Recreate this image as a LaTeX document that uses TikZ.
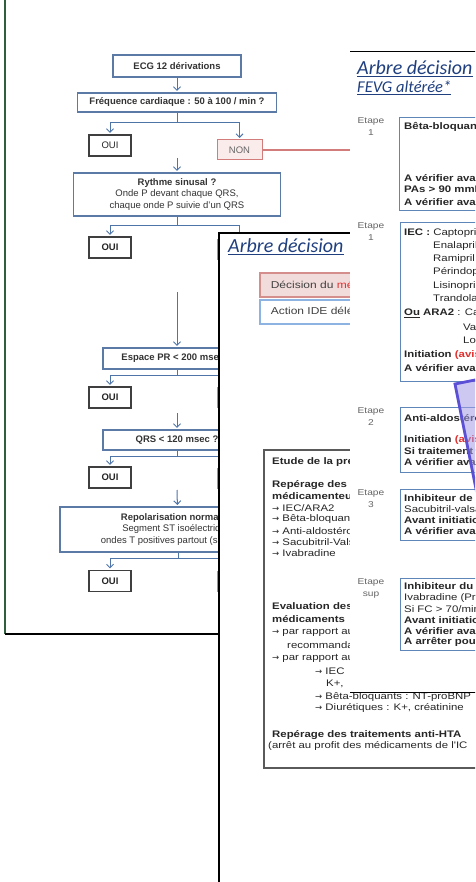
\documentclass[tikz,border=0pt]{standalone}
\usepackage{fontspec}
\setmainfont{Liberation Sans}
\newfontfamily\docfont{Liberation Sans}[FakeStretch=1.2]
\newfontfamily\titlefont{Carlito}
\newfontfamily\arrowfont{DejaVu Sans}
\newcommand{\tosign}{{\arrowfont\fontsize{8.5}{10}\selectfont →}}
\usetikzlibrary{arrows.meta}

\definecolor{ecgblue}{HTML}{5B7BA6}
\definecolor{linkblue}{HTML}{4F74A8}
\definecolor{ouigrey}{HTML}{3F3F3F}
\definecolor{nonred}{HTML}{D27C7C}
\definecolor{nonfill}{HTML}{FBECEC}
\definecolor{framegreen}{HTML}{2F5F3F}
\definecolor{titlenavy}{HTML}{1F3F7F}
\definecolor{stepblue}{HTML}{5E86B8}
\definecolor{medred}{HTML}{E0302E}
\definecolor{decfill}{HTML}{F2DCDB}
\definecolor{decline}{HTML}{D48F8D}
\definecolor{actline}{HTML}{8DB3E2}
\definecolor{etudegrey}{HTML}{5A5A5A}
\definecolor{purpline}{HTML}{5B4FD6}
\definecolor{purpfill}{HTML}{A49BE8}
\definecolor{textgrey}{HTML}{404040}

\tikzset{
  ecgbox/.style={draw=ecgblue, line width=1.1pt, fill=white, text=black!80, align=center,
    inner sep=0pt, font=\fontsize{9.5}{11.5}\selectfont\bfseries},
  ouibox/.style={draw=ouigrey, line width=1.1pt, fill=white, minimum width=42pt,
    minimum height=21pt, inner sep=0pt, text=black!85, font=\fontsize{9.5}{11}\selectfont\bfseries},
  nonbox/.style={draw=nonred, line width=1pt, fill=nonfill, minimum width=45pt,
    minimum height=20pt, inner sep=0pt, text=black!60, font=\fontsize{9.5}{11}\selectfont},
  conn/.style={draw=linkblue, line width=1pt, -{Straight Barb[length=3.5pt,width=7pt]}, shorten >=1.5pt},
  nonline/.style={draw=nonred, line width=1.2pt},
  doctext/.style={anchor=west, inner sep=0pt, text=black!85, font=\docfont\fontsize{9.5}{10}\selectfont},
  steplabel/.style={inner sep=0pt, align=center, text=black!60, font=\docfont\fontsize{8.5}{12}\selectfont},
  stepbox/.style={draw=stepblue, line width=0.9pt, fill=white},
  doctitle/.style={anchor=west, inner sep=0pt, text=titlenavy, font=\titlefont\itshape\fontsize{20}{22}\selectfont},
  legendbox/.style={anchor=west, line width=1.5pt, minimum height=24pt, inner xsep=11pt,
    text=textgrey, font=\docfont\fontsize{10}{11}\selectfont},
  etudebox/.style={draw=etudegrey, line width=1.8pt, fill=white},
  purplebox/.style={draw=purpline, line width=2.8pt, fill=purpfill, fill opacity=0.55}
}

\begin{document}
\begin{tikzpicture}[x=1pt,y=-1pt]
\useasboundingbox (0,0) rectangle (475,882);
\clip (0,0) rectangle (475,882);
\fill[white] (0,0) rectangle (475,882);

% ECG sheet
\draw[framegreen, line width=1.5pt] (5,0) -- (5,634);
\draw[black, line width=1.2pt] (5,634) -- (219,634);

\node[ecgbox, minimum width=128pt, minimum height=22pt] (ecg) at (177,66) {ECG 12 dérivations};
\node[ecgbox, minimum width=199pt, minimum height=19pt] (freq) at (177,102.5) {Fréquence cardiaque : 50 à 100 / min ?};
\node[ouibox, font=\fontsize{9.5}{11}\selectfont] (oui1) at (110,145.5) {OUI};
\node[nonbox] (non1) at (239.5,150) {NON};
\coordinate (a1) at (177,158);
\node[ecgbox, minimum width=207pt, minimum height=43pt] (rythme) at (177,194.5)
    {Rythme sinusal ?\\{\mdseries Onde P devant chaque QRS,}\\{\mdseries chaque onde P suivie d'un QRS}};
\node[ouibox] (oui2) at (110,247.5) {OUI};
\node[nonbox] (non2) at (239.5,250) {};
\coordinate (a2) at (177,292);
\node[ecgbox, minimum width=148pt, minimum height=21pt] (pr) at (177,358.5) {Espace PR < 200 msec ?};
\node[ouibox] (oui3) at (110,397.5) {OUI};
\node[nonbox] (non3) at (239.5,397) {};
\coordinate (a3) at (177,413);
\node[ecgbox, minimum width=148pt, minimum height=20pt] (qrs) at (177,440) {QRS < 120 msec ?};
\node[ouibox] (oui4) at (110,477.5) {OUI};
\node[nonbox] (non4) at (239.5,478) {};
\coordinate (a4) at (177,490);
\node[ecgbox, minimum width=236pt, minimum height=45pt] (repol) at (178,529.5)
    {Repolarisation normale ?\\{\mdseries Segment ST isoélectrique,}\\{\mdseries ondes T positives partout (sauf aVR)}};
\node[ouibox] (oui5) at (110,581) {OUI};
\node[nonbox] (non5) at (239.5,581) {};

\draw[conn] (ecg) -- (freq);
\foreach \a/\b in {a1/rythme, a2/pr, a3/qrs, a4/repol}
    \draw[conn] (\a) -- (\b);
\foreach \q/\d/\o/\n in {freq/10/oui1/non1, rythme/9/oui2/non2, pr/6/oui3/non3, qrs/6/oui4/non4, repol/6/oui5/non5} {
    \draw[conn] (\q.south) -- ++(0,\d) -| (\o);
    \draw[conn] (\q.south) -- ++(0,\d) -| (\n);
}
\coordinate (nonend) at (352,150);
\draw[nonline] (non1) -- (nonend);

% Middle sheet
\fill[white] (219,233) rectangle (480,890);
\draw[black, line width=1.2pt] (219,890) -- (219,233) -- (480,233);
\node[doctitle] (title1) at (228,247) {\underline{Arbre décision}};
\node[legendbox, draw=decline, fill=decfill] (dec) at (259,285) {Décision du \textcolor{medred}{médecin}};
\node[legendbox, draw=actline, fill=white] (act) at (259,312) {Action IDE déléguée};

\draw[etudebox] (264,450) rectangle (490,768);
\foreach \x/\y/\txt [count=\i] in {
    272/462/{\bfseries Etude de la prescription},
    272/485/{\bfseries Repérage des},
    272/496/{\bfseries médicamenteux},
    272/508/{\tosign{} IEC/ARA2},
    272/519/{\tosign{} Bêta-bloquants},
    272/531/{\tosign{} Anti-aldostérone},
    272/542/{\tosign{} Sacubitril-Valsartan},
    272/553/{\tosign{} Ivabradine},
    272/606/{\bfseries Evaluation des},
    272/619/{\bfseries médicaments},
    272/632/{\tosign{} par rapport aux},
    287/645/{recommandations},
    272/658/{\tosign{} par rapport aux},
    315/671/{\tosign{} IEC},
    326/684/{K+,},
    315/697/{\tosign{} Bêta-bloquants : NT-proBNP},
    315/708/{\tosign{} Diurétiques : K+, créatinine},
    272/735/{\bfseries Repérage des traitements anti-HTA},
    268/746/{(arrêt au profit des médicaments de l'IC}}
    \node[doctext] (etude\i) at (\x,\y) {\txt};

% Right sheet
\fill[white] (350,52) rectangle (480,692);
\draw[black, line width=1pt] (350,52) -- (480,52);
\draw[black, line width=1pt] (350,692) -- (480,692);
\node[doctitle] (title2) at (357,69) {\underline{Arbre décision}};
\node[doctitle, font=\titlefont\itshape\fontsize{16.5}{18}\selectfont] (title3) at (357,88) {\underline{FEVG altérée*}};

\draw[stepbox] (399,117) rectangle (480,210);
\draw[stepbox] (400,222) rectangle (480,381);
\draw[stepbox] (400,407) rectangle (480,472);
\draw[stepbox] (400,489) rectangle (480,540);
\draw[stepbox] (400,578) rectangle (480,650);

\foreach \y/\s [count=\i] in {121/1, 226/1, 411/2, 493/3, 582/sup}
    \node[steplabel] (etape\i) at (371,\y+6) {Etape\\\s};

\foreach \x/\y/\txt [count=\i] in {
    404/127/{\bfseries Bêta-bloquants},
    404/178/{\bfseries A vérifier avant},
    404/190/{\bfseries PAs > 90 mmHg},
    404/202/{\bfseries A vérifier avant},
    404/233/{\textbf{IEC :} Captopril},
    433/246/{Enalapril},
    433/259/{Ramipril},
    433/272/{Périndopril},
    433/286/{Lisinopril},
    433/299/{Trandolapril},
    404/313/{\textbf{\underline{Ou} ARA2} : Candésartan},
    463/327/{Valsartan},
    463/340/{Losartan},
    404/355/{\bfseries Initiation \textcolor{medred}{(avis}},
    404/368/{\bfseries A vérifier avant},
    404/418/{\bfseries Anti-aldostérone},
    404/440/{\bfseries Initiation \textcolor{medred}{(avis}},
    404/451/{\bfseries Si traitement},
    404/462/{\bfseries A vérifier avant},
    404/498/{\bfseries Inhibiteur de},
    404/509/{Sacubitril-valsartan},
    404/520/{\bfseries Avant initiation},
    404/531/{\bfseries A vérifier avant},
    404/586/{\bfseries Inhibiteur du},
    404/598/{Ivabradine (Procoralan)},
    404/609/{Si FC > 70/min},
    404/620/{\bfseries Avant initiation},
    404/631/{\bfseries A vérifier avant},
    404/642/{\bfseries A arrêter pour}}
    \node[doctext] (step\i) at (\x,\y) {\txt};

% Highlight
\draw[purplebox] (455,384) -- (555,364) -- (595,564) -- (495,584) -- cycle;

\end{tikzpicture}
\end{document}
